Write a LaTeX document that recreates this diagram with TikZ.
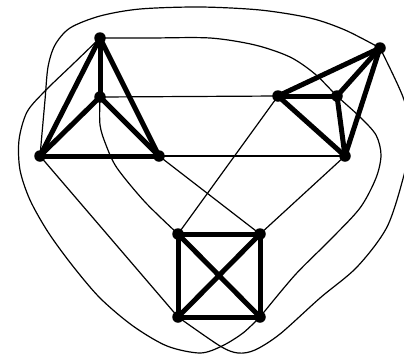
\documentclass[tikz,border=0pt]{standalone}
\begin{document}
\begin{tikzpicture}[x=1pt,y=-1pt,
  vtx/.style={circle,fill=black,inner sep=0pt,minimum size=11.5pt},
  heavy/.style={line width=5pt,line cap=round},
  light/.style={line width=1.2pt}]
\useasboundingbox[fill=white] (0,0) rectangle (404,354);
% left K4
\node[vtx] (A) at (100,38) {};
\node[vtx] (B) at (100,97) {};
\node[vtx] (C) at (40,156) {};
\node[vtx] (D) at (159,156) {};
% right K4
\node[vtx] (E) at (380,48) {};
\node[vtx] (F) at (278,96) {};
\node[vtx] (G) at (337,96) {};
\node[vtx] (H) at (345,156) {};
% bottom K4
\node[vtx] (I) at (178,234) {};
\node[vtx] (J) at (260,234) {};
\node[vtx] (K) at (178,317) {};
\node[vtx] (L) at (260,317) {};
% thick K4 edges
\foreach \u/\v in {A/B,A/C,A/D,B/C,B/D,C/D,E/F,E/G,E/H,F/G,F/H,G/H,I/J,I/K,I/L,J/K,J/L,K/L}
  \draw[heavy] (\u.center) -- (\v.center);
% straight thin edges
\draw[light] (B.center) -- (F.center);
\draw[light] (D.center) -- (H.center);
\draw[light] (C.center) -- (K.center);
\draw[light] (D.center) -- (J.center);
\draw[light] (F.center) -- (I.center);
\draw[light] (H.center) -- (J.center);
% curved thin edges
\draw[light] plot[smooth] coordinates {(C.center) (45,100) (48,67) (55,45) (70,28) (100,16) (140,9) (200,7) (260,10) (310,18) (345,30) (E.center)};
\draw[light] plot[smooth] coordinates {(A.center) (72,65) (45,91) (27,112) (19,140) (20,170) (30,200) (48,232) (72,265) (100,298) (133,326) (167,346) (200,353) (222,346) (243,333) (L.center)};
\draw[light] plot[smooth] coordinates {(A.center) (150,38) (210,38) (255,45) (290,57) (315,74) (G.center) (360,117) (376,135) (381,155) (376,178) (360,208) (330,240) (295,275) (L.center)};
\draw[light] plot[smooth] coordinates {(E.center) (403,97) (412,135) (404,175) (387,227) (357,267) (320,298) (280,334) (255,350) (238,353) (220,346) (K.center)};
\draw[light] plot[smooth] coordinates {(B.center) (100,125) (106,145) (117,168) (145,202) (I.center)};
\end{tikzpicture}
\end{document}
